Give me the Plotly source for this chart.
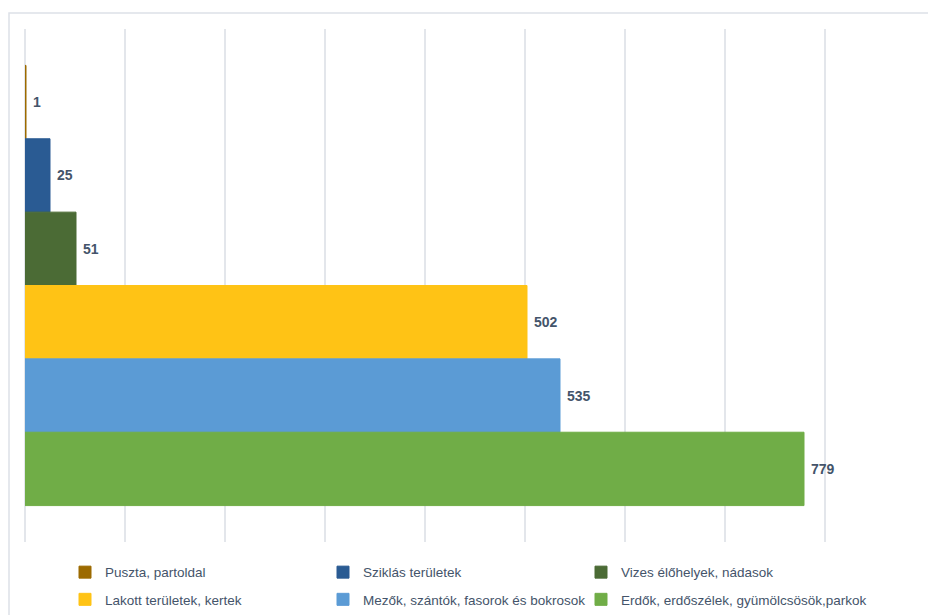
import plotly.graph_objects as go

# Habitat categories and counts
categories = [
    "Puszta, partoldal",
    "Sziklás területek",
    "Vizes élőhelyek, nádasok",
    "Lakott területek, kertek",
    "Mezők, szántók, fasorok és bokrosok",
    "Erdők, erdőszélek, gyümölcsösök,parkok",
]
counts = [1, 25, 51, 502, 535, 779]
colors = ["#9C6A00", "#2A5B93", "#4B6B35", "#FFC315", "#5B9BD5", "#70AD47"]

LABEL_COLOR = "#44546A"

fig = go.Figure()
for i, (name, val, col) in enumerate(zip(categories, counts, colors)):
    fig.add_trace(go.Bar(
        x=[val],
        y=[""],
        name=name,
        legend="legend" if i == 0 else f"legend{i + 1}",
        orientation="h",
        marker=dict(color=col, line=dict(width=1, color=col)),
        text=[val],
        texttemplate="\u00a0%{x}",
        textposition="outside",
        cliponaxis=False,
        textfont=dict(family="Liberation Sans, Arial, sans-serif", size=14,
                      color=LABEL_COLOR, weight="bold"),
        hoverinfo="x+name",
    ))

# Legend laid out as a 3-column, 2-row grid: one legend box per entry
col_x = [40 / 900, 298 / 900, 556 / 900]
row_y = [-0.029, -0.082]
legends = {}
for i in range(len(categories)):
    key = "legend" if i == 0 else f"legend{i + 1}"
    legends[key] = dict(
        orientation="h",
        x=col_x[i % 3],
        xanchor="left",
        y=row_y[i // 3],
        yanchor="top",
        font=dict(size=13.5, color=LABEL_COLOR),
        itemclick=False,
        itemdoubleclick=False,
        bgcolor="rgba(0,0,0,0)",
    )

fig.update_layout(
    width=928,
    height=615,
    barmode="group",
    bargap=0.142,
    bargroupgap=0,
    plot_bgcolor="white",
    paper_bgcolor="white",
    margin=dict(l=25, r=3, t=29, b=73, autoexpand=False),
    font=dict(family="Liberation Sans, Arial, sans-serif", color=LABEL_COLOR),
    xaxis=dict(
        range=[0, 900],
        dtick=100,
        showgrid=True,
        gridcolor="#E3E6EB",
        gridwidth=1.5,
        zeroline=True,
        zerolinecolor="#E3E6EB",
        zerolinewidth=1.5,
        showticklabels=False,
        showline=False,
        fixedrange=True,
    ),
    yaxis=dict(
        autorange="reversed",
        showticklabels=False,
        showgrid=False,
        zeroline=False,
        showline=False,
        fixedrange=True,
    ),
    showlegend=True,
    **legends,
)

# Light chart-area border
fig.add_shape(
    type="rect", xref="paper", yref="paper",
    x0=-16 / 900, x1=1.02, y0=-0.25, y1=1 + 16 / 513,
    line=dict(color="#DDE1E8", width=1.5),
    fillcolor="rgba(0,0,0,0)",
    layer="below",
)

fig.write_html("out.html")
